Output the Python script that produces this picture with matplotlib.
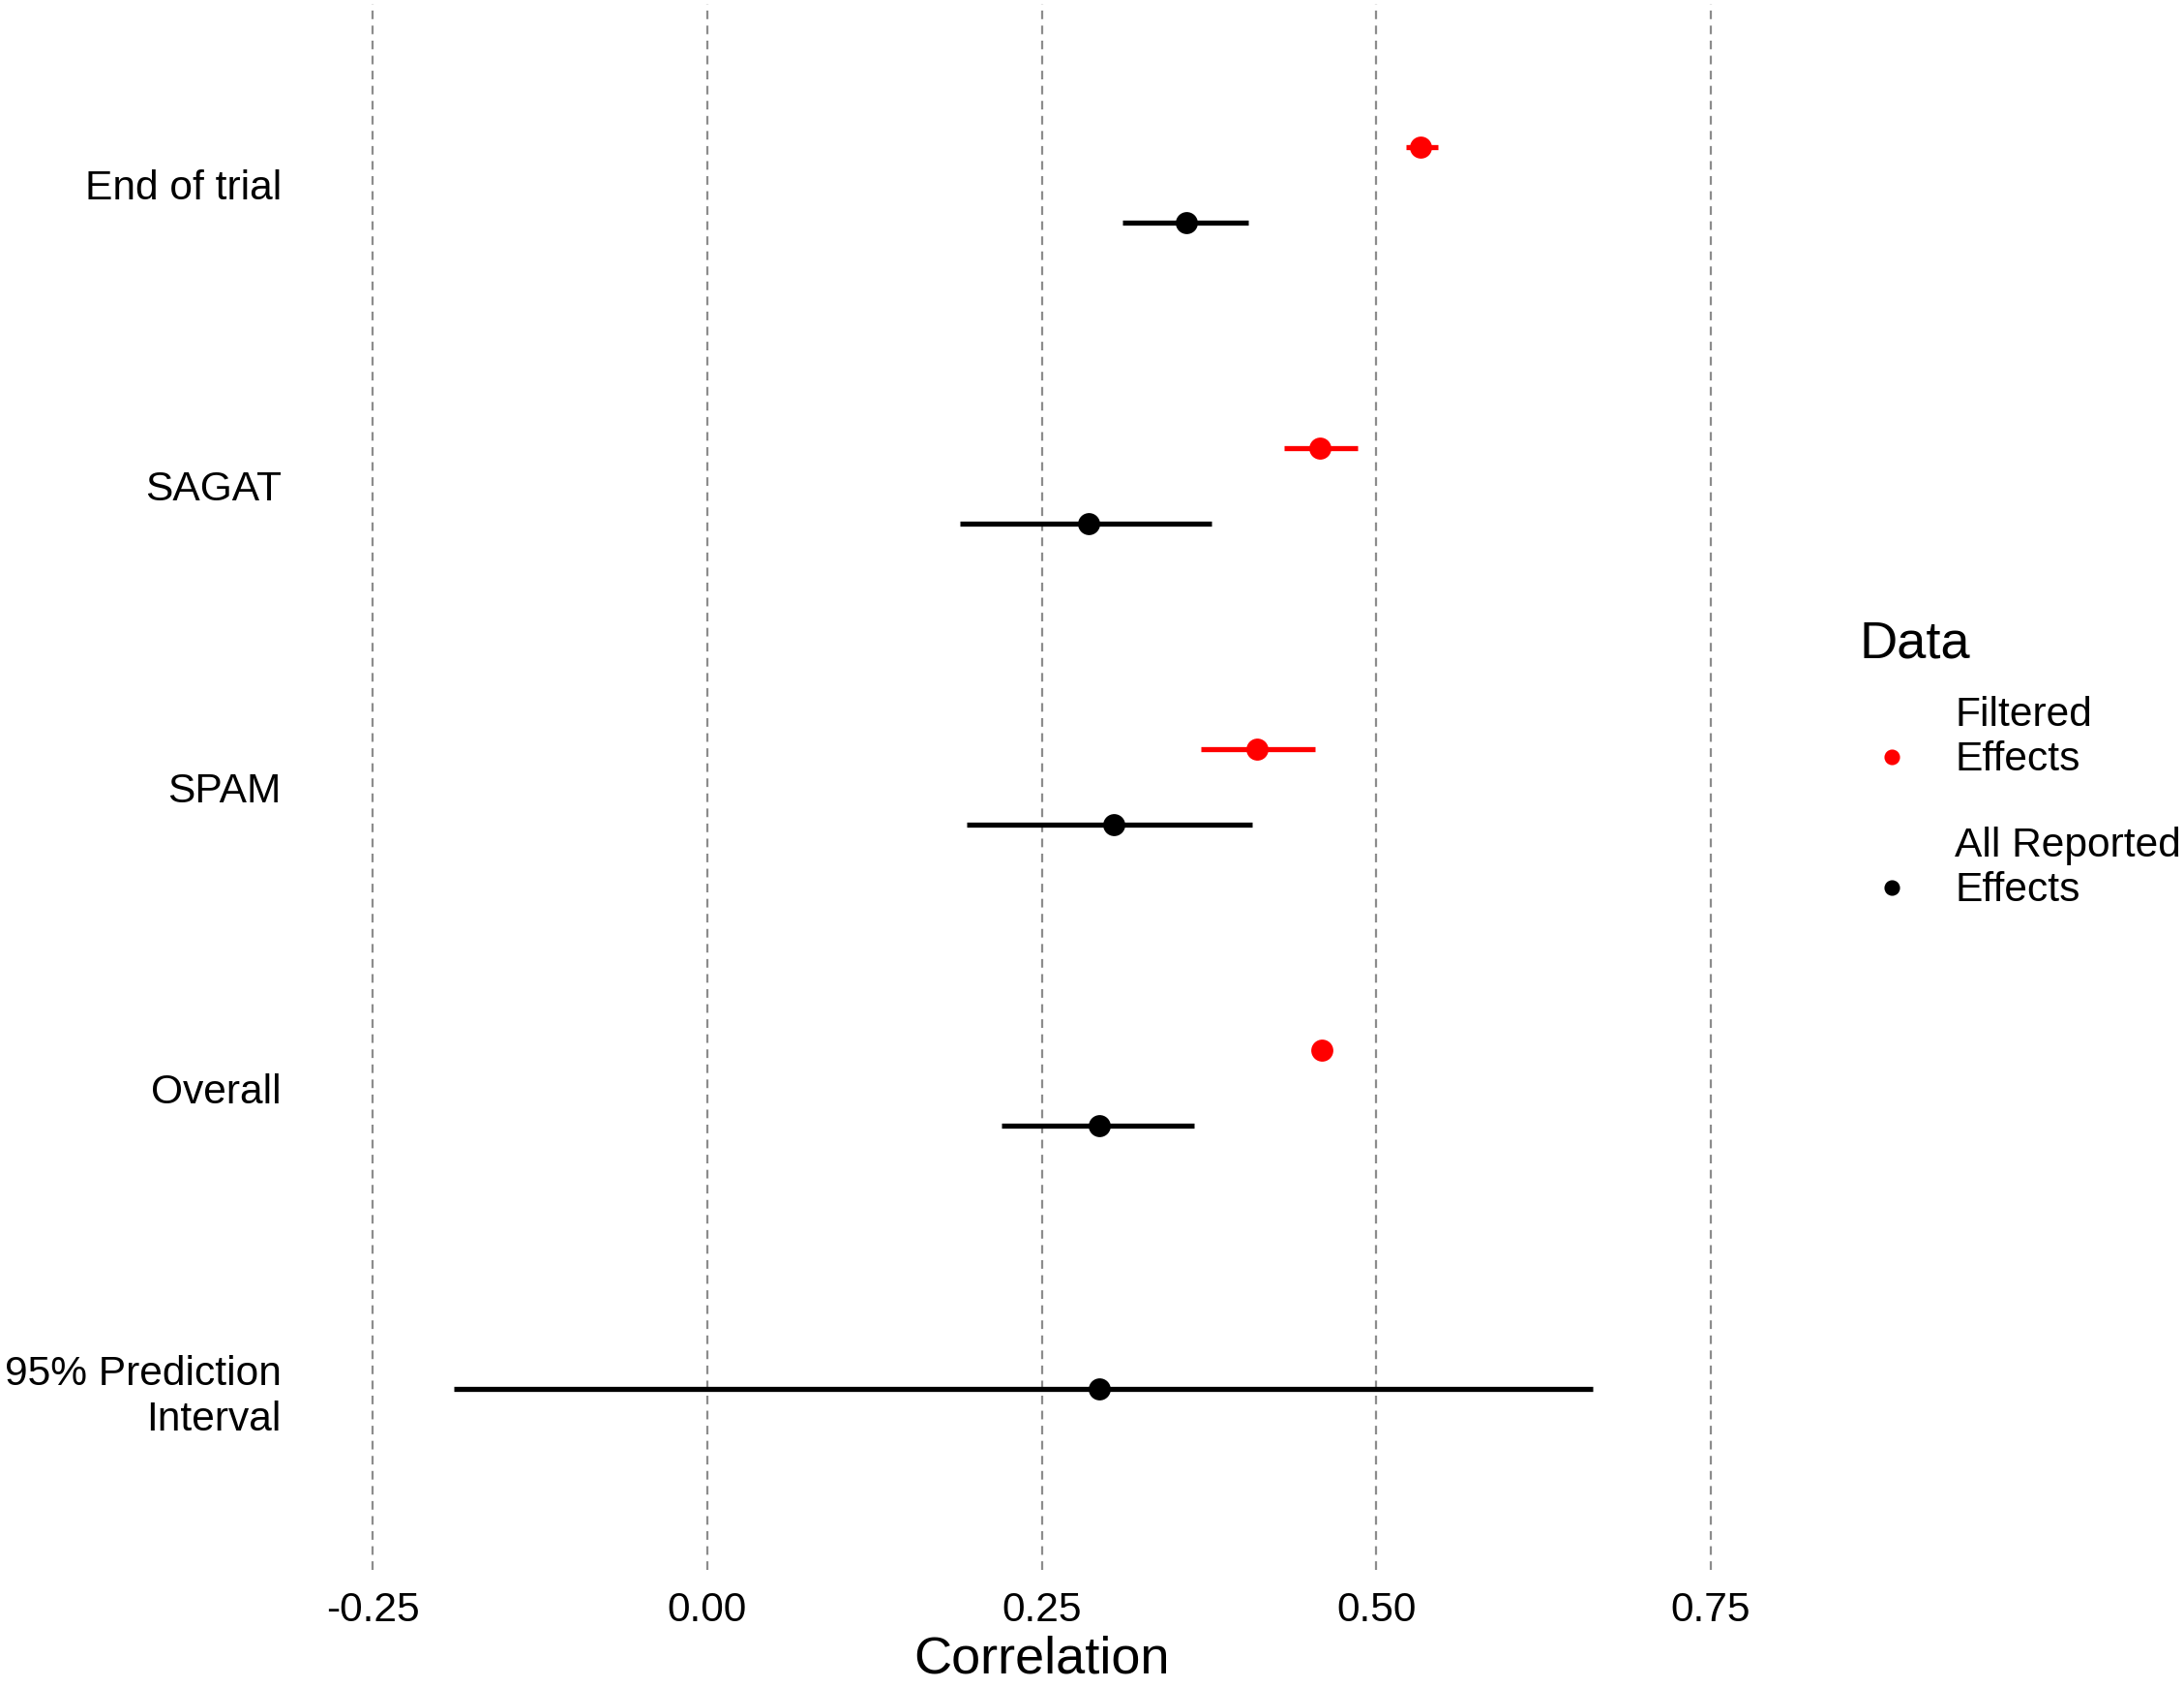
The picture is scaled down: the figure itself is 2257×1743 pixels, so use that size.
import numpy as np
import matplotlib.pyplot as plt
from matplotlib.lines import Line2D

plt.rcParams['font.family'] = ['Liberation Sans', 'DejaVu Sans']

# categories, top to bottom
categories = ['End of trial', 'SAGAT', 'SPAM', 'Overall', '95% Prediction\nInterval']

# Filtered effects (no filtered value for the prediction interval)
filt_est = [0.533, 0.458, 0.411, 0.459]
filt_lo = [0.522, 0.431, 0.369, 0.459]
filt_hi = [0.546, 0.486, 0.454, 0.459]

# All reported effects
all_est = [0.358, 0.285, 0.304, 0.293, 0.293]
all_lo = [0.310, 0.189, 0.194, 0.220, -0.189]
all_hi = [0.404, 0.377, 0.407, 0.364, 0.662]

xticks = [-0.25, 0.0, 0.25, 0.50, 0.75]
xtick_labels = ['-0.25', '0.00', '0.25', '0.50', '0.75']

fig = plt.figure(figsize=(2257 / 200, 1743 / 200), dpi=200)
ax = fig.add_axes([0.140, 0.0694, 0.674, 0.9283])

n = len(categories)
ypos = np.arange(n)[::-1]
dodge = 0.125

# all reported (black)
for i in range(n):
    y = ypos[i] - dodge if i < len(filt_est) else ypos[i]
    ax.plot([all_lo[i], all_hi[i]], [y, y], color='black', lw=1.9, solid_capstyle='butt', zorder=3)
    ax.plot(all_est[i], y, 'o', color='black', ms=7.2, zorder=4)

# filtered (red)
for i in range(len(filt_est)):
    y = ypos[i] + dodge
    ax.plot([filt_lo[i], filt_hi[i]], [y, y], color='red', lw=1.9, solid_capstyle='butt', zorder=3)
    ax.plot(filt_est[i], y, 'o', color='red', ms=7.2, zorder=4)

ax.set_xlim(-0.3, 0.8)
ax.set_ylim(-0.6, n - 0.4)
ax.set_xticks(xticks)
ax.set_xticklabels(xtick_labels, fontsize=15.3)
ax.set_yticks(ypos)
ax.set_yticklabels(categories, fontsize=15.3, linespacing=1.22)
ax.tick_params(length=0)
ax.tick_params(axis='x', pad=8)
ax.tick_params(axis='y', pad=9)
for lab in ax.get_yticklabels():
    lab.set_horizontalalignment('right')
    lab.set_multialignment('right')

for x in xticks:
    ax.axvline(x, color='#8c8c8c', lw=0.8, ls=(0, (4, 3)), zorder=1)
for s in ax.spines.values():
    s.set_visible(False)

ax.set_xlabel('Correlation', fontsize=19.5, labelpad=2)

# legend
fig.text(1922 / 2257, 1 - 665 / 1743, 'Data', fontsize=19.5, va='center', ha='left')
fig.text(2020 / 2257, 1 - 762 / 1743, 'Filtered\nEffects', fontsize=15.3, va='center', ha='left',
         linespacing=1.22)
fig.text(2020 / 2257, 1 - 897 / 1743, 'All Reported\nEffects', fontsize=15.3, va='center', ha='left',
         linespacing=1.22)
fig.add_artist(Line2D([1955 / 2257], [1 - 782 / 1743], marker='o', color='red', ms=4.8, ls='none'))
fig.add_artist(Line2D([1955 / 2257], [1 - 917 / 1743], marker='o', color='black', ms=4.8, ls='none'))

fig.savefig('out.png', dpi=200)
